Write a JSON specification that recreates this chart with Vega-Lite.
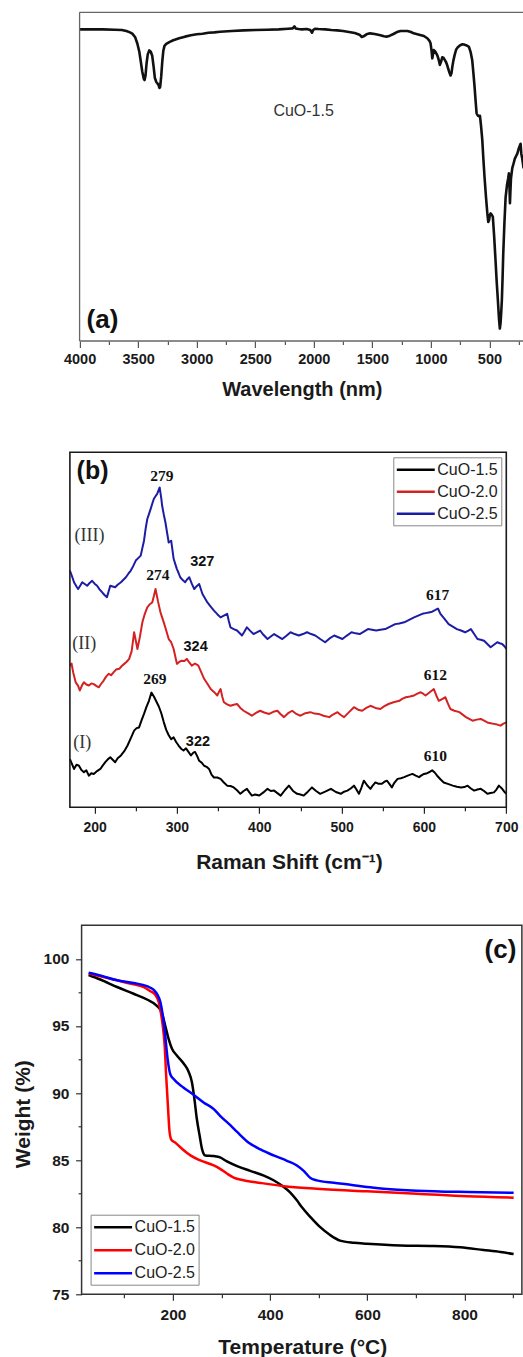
{
  "$schema": "https://vega.github.io/schema/vega-lite/v6.json",
  "padding": {"left": 11.9, "top": 11.3, "right": 0, "bottom": 0},
  "autosize": {"type": "pad"},
  "spacing": 52,
  "resolve": {"scale": {"color": "independent"}, "legend": {"color": "independent"}},
  "config": {
    "view": {"stroke": null},
    "font": "Liberation Sans",
    "axis": {
      "grid": false,
      "domain": false,
      "labelFont": "Liberation Sans",
      "labelFontWeight": "bold",
      "labelColor": "#1a1a1a",
      "labelFlush": false,
      "labelOverlap": false,
      "titleFont": "Liberation Sans",
      "titleFontWeight": "bold",
      "titleColor": "#1a1a1a",
      "titleBaseline": "alphabetic",
      "titleAlign": "center",
      "ticks": true,
      "tickColor": "#444444",
      "tickWidth": 1.2,
      "tickOpacity": 1
    }
  },
  "vconcat": [
    {
      "width": 453.7,
      "height": 328.7,
      "resolve": {"axis": {"x": "independent"}},
      "data": {"values": [
        {"wn": 4000, "t": 94.8}, {"wn": 3900, "t": 94.8}, {"wn": 3800, "t": 94.8}, {"wn": 3700, "t": 94.7},
        {"wn": 3640, "t": 94.6}, {"wn": 3600, "t": 94.3}, {"wn": 3570, "t": 93.9}, {"wn": 3550, "t": 93.5},
        {"wn": 3525, "t": 92.4}, {"wn": 3507, "t": 90.5}, {"wn": 3490, "t": 88.0}, {"wn": 3479, "t": 85.4},
        {"wn": 3465, "t": 82.0}, {"wn": 3452, "t": 79.8}, {"wn": 3445, "t": 79.4}, {"wn": 3437, "t": 80.8},
        {"wn": 3428, "t": 84.5}, {"wn": 3418, "t": 87.2}, {"wn": 3405, "t": 88.4}, {"wn": 3392, "t": 88.0},
        {"wn": 3380, "t": 86.8}, {"wn": 3368, "t": 83.5}, {"wn": 3357, "t": 80.0}, {"wn": 3345, "t": 78.8},
        {"wn": 3336, "t": 78.4}, {"wn": 3325, "t": 77.8}, {"wn": 3318, "t": 77.0}, {"wn": 3312, "t": 77.3},
        {"wn": 3303, "t": 80.5}, {"wn": 3294, "t": 85.0}, {"wn": 3285, "t": 88.3}, {"wn": 3275, "t": 89.8},
        {"wn": 3260, "t": 90.4}, {"wn": 3230, "t": 91.0}, {"wn": 3200, "t": 91.5}, {"wn": 3150, "t": 92.1},
        {"wn": 3100, "t": 92.6}, {"wn": 3050, "t": 93.0}, {"wn": 3000, "t": 93.3}, {"wn": 2950, "t": 93.5},
        {"wn": 2900, "t": 93.8}, {"wn": 2850, "t": 93.9}, {"wn": 2800, "t": 94.1}, {"wn": 2700, "t": 94.3},
        {"wn": 2600, "t": 94.5}, {"wn": 2500, "t": 94.6}, {"wn": 2400, "t": 94.7}, {"wn": 2300, "t": 94.8},
        {"wn": 2220, "t": 95.0}, {"wn": 2180, "t": 95.1}, {"wn": 2165, "t": 95.7}, {"wn": 2155, "t": 95.1},
        {"wn": 2130, "t": 94.9}, {"wn": 2100, "t": 94.8}, {"wn": 2060, "t": 94.9}, {"wn": 2030, "t": 94.6},
        {"wn": 2015, "t": 93.8}, {"wn": 2005, "t": 94.6}, {"wn": 1990, "t": 95.0}, {"wn": 1960, "t": 94.9},
        {"wn": 1900, "t": 94.8}, {"wn": 1850, "t": 94.6}, {"wn": 1800, "t": 94.5}, {"wn": 1750, "t": 94.3},
        {"wn": 1700, "t": 94.0}, {"wn": 1650, "t": 93.7}, {"wn": 1610, "t": 93.2}, {"wn": 1590, "t": 92.5},
        {"wn": 1575, "t": 92.7}, {"wn": 1550, "t": 93.3}, {"wn": 1520, "t": 93.6}, {"wn": 1480, "t": 93.4},
        {"wn": 1440, "t": 93.1}, {"wn": 1400, "t": 92.7}, {"wn": 1380, "t": 92.6}, {"wn": 1350, "t": 92.9},
        {"wn": 1320, "t": 93.4}, {"wn": 1290, "t": 94.0}, {"wn": 1260, "t": 94.3}, {"wn": 1220, "t": 94.3},
        {"wn": 1200, "t": 94.3}, {"wn": 1170, "t": 94.0}, {"wn": 1147, "t": 93.6}, {"wn": 1100, "t": 93.2},
        {"wn": 1060, "t": 92.8}, {"wn": 1031, "t": 92.1}, {"wn": 1012, "t": 91.3}, {"wn": 1003, "t": 90.6},
        {"wn": 995, "t": 88.5}, {"wn": 988, "t": 86.0}, {"wn": 982, "t": 87.2}, {"wn": 975, "t": 88.5},
        {"wn": 962, "t": 88.0}, {"wn": 946, "t": 87.0}, {"wn": 935, "t": 85.8}, {"wn": 923, "t": 84.0},
        {"wn": 913, "t": 85.0}, {"wn": 903, "t": 86.3}, {"wn": 893, "t": 86.2}, {"wn": 883, "t": 85.6},
        {"wn": 870, "t": 84.8}, {"wn": 860, "t": 83.8}, {"wn": 845, "t": 82.0}, {"wn": 832, "t": 80.8},
        {"wn": 824, "t": 81.5}, {"wn": 817, "t": 83.4}, {"wn": 808, "t": 85.3}, {"wn": 798, "t": 86.9},
        {"wn": 785, "t": 88.6}, {"wn": 770, "t": 89.4}, {"wn": 750, "t": 90.0}, {"wn": 730, "t": 90.3},
        {"wn": 718, "t": 90.2}, {"wn": 700, "t": 90.0}, {"wn": 685, "t": 89.7}, {"wn": 675, "t": 89.5},
        {"wn": 660, "t": 87.8}, {"wn": 647, "t": 85.4}, {"wn": 637, "t": 81.5}, {"wn": 627, "t": 77.3},
        {"wn": 618, "t": 73.0}, {"wn": 610, "t": 69.3}, {"wn": 600, "t": 68.6}, {"wn": 590, "t": 68.4},
        {"wn": 581, "t": 68.5}, {"wn": 572, "t": 65.5}, {"wn": 561, "t": 61.1}, {"wn": 552, "t": 55.5},
        {"wn": 542, "t": 49.9}, {"wn": 530, "t": 44.0}, {"wn": 518, "t": 38.8}, {"wn": 510, "t": 36.2},
        {"wn": 503, "t": 36.8}, {"wn": 496, "t": 38.5}, {"wn": 490, "t": 38.8}, {"wn": 480, "t": 38.4},
        {"wn": 471, "t": 37.8}, {"wn": 460, "t": 32.0}, {"wn": 448, "t": 24.5}, {"wn": 438, "t": 18.0},
        {"wn": 428, "t": 12.4}, {"wn": 418, "t": 6.5}, {"wn": 411, "t": 3.8}, {"wn": 405, "t": 5.5},
        {"wn": 399, "t": 9.0}, {"wn": 394, "t": 12.4}, {"wn": 388, "t": 19.0}, {"wn": 382, "t": 26.7},
        {"wn": 372, "t": 36.0}, {"wn": 362, "t": 43.7}, {"wn": 350, "t": 47.5}, {"wn": 340, "t": 49.5},
        {"wn": 334, "t": 51.0}, {"wn": 329, "t": 47.0}, {"wn": 325, "t": 41.9}, {"wn": 321, "t": 45.5},
        {"wn": 316, "t": 49.5}, {"wn": 305, "t": 52.6}, {"wn": 294, "t": 54.0}, {"wn": 283, "t": 55.5},
        {"wn": 272, "t": 56.3}, {"wn": 262, "t": 57.0}, {"wn": 250, "t": 58.5}, {"wn": 240, "t": 59.5},
        {"wn": 234, "t": 60.0}, {"wn": 228, "t": 57.0}, {"wn": 220, "t": 55.5}, {"wn": 214, "t": 54.0},
        {"wn": 208.5, "t": 52.5}
      ]},
      "layer": [
        {
          "mark": {"type": "line", "color": "#111111", "strokeWidth": 2.6, "strokeJoin": "round"},
          "encoding": {
            "x": {
              "field": "wn", "type": "quantitative",
              "scale": {"domain": [4082.8, 208.4], "nice": false, "zero": false},
              "axis": {
                "orient": "bottom",
                "title": "Wavelength (nm)",
                "values": [4000, 3500, 3000, 2500, 2000, 1500, 1000, 500],
                "format": "d",
                "tickSize": 6.5,
                "tickColor": "#555555",
                "labelFontSize": 14.5,
                "labelPadding": 4.6,
                "titleFontSize": 20,
                "titleX": 231.9,
                "titleY": 54.3
              }
            },
            "y": {
              "field": "t", "type": "quantitative",
              "scale": {"domain": [0, 100], "nice": false, "zero": false},
              "axis": {
                "title": "Transmittance (a.u)",
                "labels": false,
                "ticks": false,
                "titleFontSize": 20,
                "titleX": -21.7,
                "titleY": 168
              }
            }
          }
        },
        {
          "data": {"values": [{}]},
          "mark": {"type": "rule", "color": "#666666", "strokeWidth": 1.3},
          "encoding": {
            "x": {"datum": 4000, "type": "quantitative", "axis": {"orient": "bottom", "values": [3750, 3250, 2750, 2250, 1750, 1250, 750, 250], "labels": false, "title": null, "tickSize": 3.5, "tickColor": "#555555"}},
            "x2": {"datum": 208.4},
            "y": {"datum": 100, "type": "quantitative", "axis": null}
          }
        },
        {
          "data": {"values": [{}]},
          "mark": {"type": "rule", "color": "#666666", "strokeWidth": 1.3},
          "encoding": {
            "x": {"datum": 4000, "type": "quantitative", "axis": null},
            "x2": {"datum": 208.4},
            "y": {"datum": 0, "type": "quantitative", "axis": null}
          }
        },
        {
          "data": {"values": [{}]},
          "mark": {"type": "rule", "color": "#666666", "strokeWidth": 1.3},
          "encoding": {
            "x": {"datum": 4000, "type": "quantitative", "axis": null},
            "y": {"datum": 0, "type": "quantitative", "axis": null},
            "y2": {"datum": 100}
          }
        },
        {
          "data": {"values": [{"wn": 2087, "t": 68.4, "label": "CuO-1.5"}]},
          "mark": {"type": "text", "font": "Liberation Sans", "fontSize": 16, "color": "#333333", "align": "center", "baseline": "alphabetic"},
          "encoding": {
            "x": {"field": "wn", "type": "quantitative", "axis": null},
            "y": {"field": "t", "type": "quantitative", "axis": null},
            "text": {"field": "label"}
          }
        },
        {
          "data": {"values": [{"wn": 3940, "t": 3.9, "label": "(a)"}]},
          "mark": {"type": "text", "font": "Liberation Sans", "fontSize": 26, "fontWeight": "bold", "color": "#111111", "align": "left", "baseline": "alphabetic"},
          "encoding": {
            "x": {"field": "wn", "type": "quantitative", "axis": null},
            "y": {"field": "t", "type": "quantitative", "axis": null},
            "text": {"field": "label"}
          }
        }
      ]
    },
    {
      "width": 436.4,
      "height": 355,
      "resolve": {"axis": {"x": "independent"}},
      "data": {"values": [
        {"s": "CuO-1.5", "shift": 170, "i": 13.6}, {"s": "CuO-1.5", "shift": 175, "i": 10.8}, {"s": "CuO-1.5", "shift": 178, "i": 12.0},
        {"s": "CuO-1.5", "shift": 181, "i": 11.7}, {"s": "CuO-1.5", "shift": 184, "i": 10.5}, {"s": "CuO-1.5", "shift": 187, "i": 9.9},
        {"s": "CuO-1.5", "shift": 190, "i": 10.4}, {"s": "CuO-1.5", "shift": 193, "i": 8.9}, {"s": "CuO-1.5", "shift": 196, "i": 9.6},
        {"s": "CuO-1.5", "shift": 199, "i": 9.4}, {"s": "CuO-1.5", "shift": 203, "i": 10.2}, {"s": "CuO-1.5", "shift": 207, "i": 10.8},
        {"s": "CuO-1.5", "shift": 210, "i": 11.8}, {"s": "CuO-1.5", "shift": 213, "i": 12.7}, {"s": "CuO-1.5", "shift": 216, "i": 13.5},
        {"s": "CuO-1.5", "shift": 219, "i": 14.1}, {"s": "CuO-1.5", "shift": 222, "i": 13.4}, {"s": "CuO-1.5", "shift": 225, "i": 12.7},
        {"s": "CuO-1.5", "shift": 228, "i": 13.8}, {"s": "CuO-1.5", "shift": 232, "i": 14.6}, {"s": "CuO-1.5", "shift": 236, "i": 15.8},
        {"s": "CuO-1.5", "shift": 240, "i": 17.4}, {"s": "CuO-1.5", "shift": 244, "i": 19.5}, {"s": "CuO-1.5", "shift": 248, "i": 21.6},
        {"s": "CuO-1.5", "shift": 251, "i": 22.3}, {"s": "CuO-1.5", "shift": 254, "i": 22.5}, {"s": "CuO-1.5", "shift": 257, "i": 24.5},
        {"s": "CuO-1.5", "shift": 260, "i": 26.3}, {"s": "CuO-1.5", "shift": 263, "i": 28.3}, {"s": "CuO-1.5", "shift": 266, "i": 30.0},
        {"s": "CuO-1.5", "shift": 269, "i": 32.3}, {"s": "CuO-1.5", "shift": 272, "i": 31.2}, {"s": "CuO-1.5", "shift": 275, "i": 29.8},
        {"s": "CuO-1.5", "shift": 278, "i": 28.4}, {"s": "CuO-1.5", "shift": 281, "i": 26.5}, {"s": "CuO-1.5", "shift": 284, "i": 24.0},
        {"s": "CuO-1.5", "shift": 287, "i": 21.8}, {"s": "CuO-1.5", "shift": 290, "i": 20.3}, {"s": "CuO-1.5", "shift": 293, "i": 19.2},
        {"s": "CuO-1.5", "shift": 296, "i": 19.7}, {"s": "CuO-1.5", "shift": 299, "i": 18.4}, {"s": "CuO-1.5", "shift": 302, "i": 17.4},
        {"s": "CuO-1.5", "shift": 305, "i": 16.5}, {"s": "CuO-1.5", "shift": 308, "i": 16.0}, {"s": "CuO-1.5", "shift": 311, "i": 16.6},
        {"s": "CuO-1.5", "shift": 314, "i": 15.6}, {"s": "CuO-1.5", "shift": 317, "i": 14.6}, {"s": "CuO-1.5", "shift": 320, "i": 15.4},
        {"s": "CuO-1.5", "shift": 322, "i": 15.6}, {"s": "CuO-1.5", "shift": 325, "i": 14.2}, {"s": "CuO-1.5", "shift": 327, "i": 13.1},
        {"s": "CuO-1.5", "shift": 330, "i": 12.6}, {"s": "CuO-1.5", "shift": 333, "i": 11.7}, {"s": "CuO-1.5", "shift": 336, "i": 11.4},
        {"s": "CuO-1.5", "shift": 339, "i": 10.8}, {"s": "CuO-1.5", "shift": 342, "i": 9.2}, {"s": "CuO-1.5", "shift": 345, "i": 8.4},
        {"s": "CuO-1.5", "shift": 349, "i": 8.4}, {"s": "CuO-1.5", "shift": 353, "i": 8.0}, {"s": "CuO-1.5", "shift": 357, "i": 7.0},
        {"s": "CuO-1.5", "shift": 361, "i": 6.1}, {"s": "CuO-1.5", "shift": 365, "i": 6.0}, {"s": "CuO-1.5", "shift": 369, "i": 5.6},
        {"s": "CuO-1.5", "shift": 373, "i": 4.8}, {"s": "CuO-1.5", "shift": 377, "i": 3.8}, {"s": "CuO-1.5", "shift": 381, "i": 4.6},
        {"s": "CuO-1.5", "shift": 385, "i": 5.2}, {"s": "CuO-1.5", "shift": 388, "i": 4.2}, {"s": "CuO-1.5", "shift": 391, "i": 3.3},
        {"s": "CuO-1.5", "shift": 395, "i": 3.6}, {"s": "CuO-1.5", "shift": 400, "i": 3.3}, {"s": "CuO-1.5", "shift": 405, "i": 4.2},
        {"s": "CuO-1.5", "shift": 410, "i": 5.2}, {"s": "CuO-1.5", "shift": 414, "i": 4.6}, {"s": "CuO-1.5", "shift": 418, "i": 4.7},
        {"s": "CuO-1.5", "shift": 422, "i": 4.0}, {"s": "CuO-1.5", "shift": 426, "i": 3.3}, {"s": "CuO-1.5", "shift": 431, "i": 4.8},
        {"s": "CuO-1.5", "shift": 436, "i": 6.1}, {"s": "CuO-1.5", "shift": 441, "i": 4.6}, {"s": "CuO-1.5", "shift": 446, "i": 3.8},
        {"s": "CuO-1.5", "shift": 450, "i": 3.6}, {"s": "CuO-1.5", "shift": 454, "i": 3.3}, {"s": "CuO-1.5", "shift": 459, "i": 4.4},
        {"s": "CuO-1.5", "shift": 464, "i": 5.6}, {"s": "CuO-1.5", "shift": 469, "i": 4.6}, {"s": "CuO-1.5", "shift": 474, "i": 3.8},
        {"s": "CuO-1.5", "shift": 480, "i": 4.4}, {"s": "CuO-1.5", "shift": 487, "i": 5.2}, {"s": "CuO-1.5", "shift": 493, "i": 4.3},
        {"s": "CuO-1.5", "shift": 499, "i": 3.8}, {"s": "CuO-1.5", "shift": 503, "i": 4.4}, {"s": "CuO-1.5", "shift": 507, "i": 4.7},
        {"s": "CuO-1.5", "shift": 511, "i": 5.3}, {"s": "CuO-1.5", "shift": 515, "i": 6.1}, {"s": "CuO-1.5", "shift": 518, "i": 5.0},
        {"s": "CuO-1.5", "shift": 521, "i": 3.8}, {"s": "CuO-1.5", "shift": 524, "i": 5.5}, {"s": "CuO-1.5", "shift": 527, "i": 7.5},
        {"s": "CuO-1.5", "shift": 531, "i": 6.2}, {"s": "CuO-1.5", "shift": 535, "i": 5.2}, {"s": "CuO-1.5", "shift": 538, "i": 6.2},
        {"s": "CuO-1.5", "shift": 541, "i": 7.0}, {"s": "CuO-1.5", "shift": 545, "i": 6.6}, {"s": "CuO-1.5", "shift": 549, "i": 6.6},
        {"s": "CuO-1.5", "shift": 552, "i": 7.2}, {"s": "CuO-1.5", "shift": 555, "i": 7.5}, {"s": "CuO-1.5", "shift": 558, "i": 6.6},
        {"s": "CuO-1.5", "shift": 561, "i": 5.6}, {"s": "CuO-1.5", "shift": 564, "i": 6.9}, {"s": "CuO-1.5", "shift": 568, "i": 8.0},
        {"s": "CuO-1.5", "shift": 572, "i": 8.2}, {"s": "CuO-1.5", "shift": 576, "i": 8.5}, {"s": "CuO-1.5", "shift": 581, "i": 9.0},
        {"s": "CuO-1.5", "shift": 586, "i": 9.4}, {"s": "CuO-1.5", "shift": 590, "i": 8.9}, {"s": "CuO-1.5", "shift": 594, "i": 8.5},
        {"s": "CuO-1.5", "shift": 597, "i": 9.0}, {"s": "CuO-1.5", "shift": 600, "i": 9.4}, {"s": "CuO-1.5", "shift": 604, "i": 9.6},
        {"s": "CuO-1.5", "shift": 607, "i": 10.0}, {"s": "CuO-1.5", "shift": 610, "i": 10.4}, {"s": "CuO-1.5", "shift": 613, "i": 9.8},
        {"s": "CuO-1.5", "shift": 616, "i": 8.9}, {"s": "CuO-1.5", "shift": 620, "i": 7.9}, {"s": "CuO-1.5", "shift": 624, "i": 7.0},
        {"s": "CuO-1.5", "shift": 629, "i": 6.6}, {"s": "CuO-1.5", "shift": 635, "i": 6.1}, {"s": "CuO-1.5", "shift": 640, "i": 5.8},
        {"s": "CuO-1.5", "shift": 645, "i": 5.6}, {"s": "CuO-1.5", "shift": 649, "i": 5.7}, {"s": "CuO-1.5", "shift": 653, "i": 6.1},
        {"s": "CuO-1.5", "shift": 657, "i": 5.3}, {"s": "CuO-1.5", "shift": 661, "i": 4.7}, {"s": "CuO-1.5", "shift": 665, "i": 5.0},
        {"s": "CuO-1.5", "shift": 669, "i": 5.2}, {"s": "CuO-1.5", "shift": 673, "i": 4.6}, {"s": "CuO-1.5", "shift": 677, "i": 3.8},
        {"s": "CuO-1.5", "shift": 681, "i": 4.0}, {"s": "CuO-1.5", "shift": 685, "i": 4.2}, {"s": "CuO-1.5", "shift": 688, "i": 5.0},
        {"s": "CuO-1.5", "shift": 691, "i": 6.1}, {"s": "CuO-1.5", "shift": 695, "i": 5.2}, {"s": "CuO-1.5", "shift": 698, "i": 4.3},
        {"s": "CuO-1.5", "shift": 700, "i": 3.8},

        {"s": "CuO-2.0", "shift": 170, "i": 39.9}, {"s": "CuO-2.0", "shift": 172, "i": 40.5}, {"s": "CuO-2.0", "shift": 174, "i": 38.0},
        {"s": "CuO-2.0", "shift": 177, "i": 35.2}, {"s": "CuO-2.0", "shift": 180, "i": 34.2}, {"s": "CuO-2.0", "shift": 182, "i": 32.9},
        {"s": "CuO-2.0", "shift": 185, "i": 34.5}, {"s": "CuO-2.0", "shift": 187, "i": 35.2}, {"s": "CuO-2.0", "shift": 190, "i": 34.6},
        {"s": "CuO-2.0", "shift": 193, "i": 34.3}, {"s": "CuO-2.0", "shift": 196, "i": 34.9}, {"s": "CuO-2.0", "shift": 199, "i": 34.7},
        {"s": "CuO-2.0", "shift": 202, "i": 34.2}, {"s": "CuO-2.0", "shift": 205, "i": 33.8}, {"s": "CuO-2.0", "shift": 208, "i": 34.8},
        {"s": "CuO-2.0", "shift": 211, "i": 35.7}, {"s": "CuO-2.0", "shift": 214, "i": 36.8}, {"s": "CuO-2.0", "shift": 217, "i": 37.6},
        {"s": "CuO-2.0", "shift": 220, "i": 37.2}, {"s": "CuO-2.0", "shift": 223, "i": 38.0}, {"s": "CuO-2.0", "shift": 226, "i": 38.8},
        {"s": "CuO-2.0", "shift": 230, "i": 39.0}, {"s": "CuO-2.0", "shift": 233, "i": 39.8}, {"s": "CuO-2.0", "shift": 236, "i": 40.4},
        {"s": "CuO-2.0", "shift": 239, "i": 41.0}, {"s": "CuO-2.0", "shift": 242, "i": 41.8}, {"s": "CuO-2.0", "shift": 245, "i": 44.0},
        {"s": "CuO-2.0", "shift": 248, "i": 49.3}, {"s": "CuO-2.0", "shift": 250, "i": 47.0}, {"s": "CuO-2.0", "shift": 252, "i": 44.6},
        {"s": "CuO-2.0", "shift": 255, "i": 48.0}, {"s": "CuO-2.0", "shift": 258, "i": 52.1}, {"s": "CuO-2.0", "shift": 261, "i": 54.5},
        {"s": "CuO-2.0", "shift": 264, "i": 56.3}, {"s": "CuO-2.0", "shift": 267, "i": 57.2}, {"s": "CuO-2.0", "shift": 270, "i": 57.7},
        {"s": "CuO-2.0", "shift": 272, "i": 59.5}, {"s": "CuO-2.0", "shift": 274, "i": 61.5}, {"s": "CuO-2.0", "shift": 277, "i": 58.0},
        {"s": "CuO-2.0", "shift": 280, "i": 54.9}, {"s": "CuO-2.0", "shift": 282, "i": 53.5}, {"s": "CuO-2.0", "shift": 284, "i": 52.1},
        {"s": "CuO-2.0", "shift": 287, "i": 49.8}, {"s": "CuO-2.0", "shift": 290, "i": 47.4}, {"s": "CuO-2.0", "shift": 293, "i": 46.5},
        {"s": "CuO-2.0", "shift": 296, "i": 44.6}, {"s": "CuO-2.0", "shift": 298, "i": 42.5}, {"s": "CuO-2.0", "shift": 300, "i": 40.4},
        {"s": "CuO-2.0", "shift": 303, "i": 41.0}, {"s": "CuO-2.0", "shift": 306, "i": 41.3}, {"s": "CuO-2.0", "shift": 309, "i": 41.2},
        {"s": "CuO-2.0", "shift": 312, "i": 41.8}, {"s": "CuO-2.0", "shift": 315, "i": 40.8}, {"s": "CuO-2.0", "shift": 318, "i": 39.9},
        {"s": "CuO-2.0", "shift": 322, "i": 40.5}, {"s": "CuO-2.0", "shift": 326, "i": 39.9}, {"s": "CuO-2.0", "shift": 330, "i": 37.8},
        {"s": "CuO-2.0", "shift": 333, "i": 36.2}, {"s": "CuO-2.0", "shift": 337, "i": 34.8}, {"s": "CuO-2.0", "shift": 341, "i": 33.3},
        {"s": "CuO-2.0", "shift": 345, "i": 32.5}, {"s": "CuO-2.0", "shift": 349, "i": 31.5}, {"s": "CuO-2.0", "shift": 351, "i": 32.5},
        {"s": "CuO-2.0", "shift": 353, "i": 33.3}, {"s": "CuO-2.0", "shift": 355, "i": 31.2}, {"s": "CuO-2.0", "shift": 357, "i": 29.6},
        {"s": "CuO-2.0", "shift": 361, "i": 29.0}, {"s": "CuO-2.0", "shift": 365, "i": 28.6}, {"s": "CuO-2.0", "shift": 369, "i": 28.9},
        {"s": "CuO-2.0", "shift": 373, "i": 29.1}, {"s": "CuO-2.0", "shift": 377, "i": 28.0}, {"s": "CuO-2.0", "shift": 381, "i": 27.2},
        {"s": "CuO-2.0", "shift": 386, "i": 26.5}, {"s": "CuO-2.0", "shift": 391, "i": 25.8}, {"s": "CuO-2.0", "shift": 396, "i": 26.6},
        {"s": "CuO-2.0", "shift": 401, "i": 27.2}, {"s": "CuO-2.0", "shift": 406, "i": 26.7}, {"s": "CuO-2.0", "shift": 412, "i": 26.3},
        {"s": "CuO-2.0", "shift": 417, "i": 26.9}, {"s": "CuO-2.0", "shift": 422, "i": 27.2}, {"s": "CuO-2.0", "shift": 426, "i": 26.2},
        {"s": "CuO-2.0", "shift": 430, "i": 25.4}, {"s": "CuO-2.0", "shift": 435, "i": 26.5}, {"s": "CuO-2.0", "shift": 440, "i": 27.2},
        {"s": "CuO-2.0", "shift": 445, "i": 26.3}, {"s": "CuO-2.0", "shift": 450, "i": 25.8}, {"s": "CuO-2.0", "shift": 456, "i": 26.5},
        {"s": "CuO-2.0", "shift": 462, "i": 26.8}, {"s": "CuO-2.0", "shift": 467, "i": 26.4}, {"s": "CuO-2.0", "shift": 472, "i": 26.3},
        {"s": "CuO-2.0", "shift": 478, "i": 25.8}, {"s": "CuO-2.0", "shift": 485, "i": 25.4}, {"s": "CuO-2.0", "shift": 490, "i": 26.2},
        {"s": "CuO-2.0", "shift": 495, "i": 26.8}, {"s": "CuO-2.0", "shift": 499, "i": 26.0}, {"s": "CuO-2.0", "shift": 503, "i": 25.4},
        {"s": "CuO-2.0", "shift": 509, "i": 26.8}, {"s": "CuO-2.0", "shift": 515, "i": 28.2}, {"s": "CuO-2.0", "shift": 520, "i": 27.5},
        {"s": "CuO-2.0", "shift": 525, "i": 27.2}, {"s": "CuO-2.0", "shift": 530, "i": 28.0}, {"s": "CuO-2.0", "shift": 535, "i": 28.6},
        {"s": "CuO-2.0", "shift": 541, "i": 28.0}, {"s": "CuO-2.0", "shift": 547, "i": 27.7}, {"s": "CuO-2.0", "shift": 552, "i": 28.5},
        {"s": "CuO-2.0", "shift": 557, "i": 29.1}, {"s": "CuO-2.0", "shift": 563, "i": 29.6}, {"s": "CuO-2.0", "shift": 570, "i": 30.0},
        {"s": "CuO-2.0", "shift": 574, "i": 30.6}, {"s": "CuO-2.0", "shift": 578, "i": 31.0}, {"s": "CuO-2.0", "shift": 583, "i": 31.2},
        {"s": "CuO-2.0", "shift": 588, "i": 31.5}, {"s": "CuO-2.0", "shift": 592, "i": 32.0}, {"s": "CuO-2.0", "shift": 596, "i": 32.4},
        {"s": "CuO-2.0", "shift": 599, "i": 32.0}, {"s": "CuO-2.0", "shift": 602, "i": 31.5}, {"s": "CuO-2.0", "shift": 607, "i": 32.4},
        {"s": "CuO-2.0", "shift": 612, "i": 33.3}, {"s": "CuO-2.0", "shift": 615, "i": 31.5}, {"s": "CuO-2.0", "shift": 618, "i": 30.0},
        {"s": "CuO-2.0", "shift": 622, "i": 30.5}, {"s": "CuO-2.0", "shift": 626, "i": 31.0}, {"s": "CuO-2.0", "shift": 629, "i": 29.3},
        {"s": "CuO-2.0", "shift": 632, "i": 27.7}, {"s": "CuO-2.0", "shift": 637, "i": 27.2}, {"s": "CuO-2.0", "shift": 643, "i": 26.8},
        {"s": "CuO-2.0", "shift": 647, "i": 26.1}, {"s": "CuO-2.0", "shift": 651, "i": 25.4}, {"s": "CuO-2.0", "shift": 655, "i": 24.9},
        {"s": "CuO-2.0", "shift": 659, "i": 24.4}, {"s": "CuO-2.0", "shift": 664, "i": 24.7}, {"s": "CuO-2.0", "shift": 669, "i": 24.9},
        {"s": "CuO-2.0", "shift": 673, "i": 24.4}, {"s": "CuO-2.0", "shift": 677, "i": 23.9}, {"s": "CuO-2.0", "shift": 681, "i": 23.7},
        {"s": "CuO-2.0", "shift": 685, "i": 23.5}, {"s": "CuO-2.0", "shift": 689, "i": 23.3}, {"s": "CuO-2.0", "shift": 693, "i": 23.0},
        {"s": "CuO-2.0", "shift": 696, "i": 23.5}, {"s": "CuO-2.0", "shift": 700, "i": 23.9},

        {"s": "CuO-2.5", "shift": 170, "i": 66.7}, {"s": "CuO-2.5", "shift": 173, "i": 64.8}, {"s": "CuO-2.5", "shift": 175, "i": 63.4},
        {"s": "CuO-2.5", "shift": 178, "i": 62.2}, {"s": "CuO-2.5", "shift": 180, "i": 61.5}, {"s": "CuO-2.5", "shift": 183, "i": 62.6},
        {"s": "CuO-2.5", "shift": 185, "i": 63.4}, {"s": "CuO-2.5", "shift": 188, "i": 62.9}, {"s": "CuO-2.5", "shift": 191, "i": 62.4},
        {"s": "CuO-2.5", "shift": 194, "i": 63.2}, {"s": "CuO-2.5", "shift": 197, "i": 63.8}, {"s": "CuO-2.5", "shift": 200, "i": 63.0},
        {"s": "CuO-2.5", "shift": 203, "i": 62.4}, {"s": "CuO-2.5", "shift": 206, "i": 61.4}, {"s": "CuO-2.5", "shift": 209, "i": 60.6},
        {"s": "CuO-2.5", "shift": 212, "i": 59.8}, {"s": "CuO-2.5", "shift": 215, "i": 59.2}, {"s": "CuO-2.5", "shift": 217, "i": 60.8},
        {"s": "CuO-2.5", "shift": 219, "i": 62.4}, {"s": "CuO-2.5", "shift": 222, "i": 62.2}, {"s": "CuO-2.5", "shift": 225, "i": 62.0},
        {"s": "CuO-2.5", "shift": 228, "i": 62.7}, {"s": "CuO-2.5", "shift": 232, "i": 63.4}, {"s": "CuO-2.5", "shift": 235, "i": 64.1},
        {"s": "CuO-2.5", "shift": 238, "i": 64.8}, {"s": "CuO-2.5", "shift": 241, "i": 65.8}, {"s": "CuO-2.5", "shift": 244, "i": 66.7},
        {"s": "CuO-2.5", "shift": 247, "i": 68.0}, {"s": "CuO-2.5", "shift": 250, "i": 69.5}, {"s": "CuO-2.5", "shift": 253, "i": 70.2},
        {"s": "CuO-2.5", "shift": 256, "i": 70.9}, {"s": "CuO-2.5", "shift": 258, "i": 73.0}, {"s": "CuO-2.5", "shift": 260, "i": 75.1},
        {"s": "CuO-2.5", "shift": 262, "i": 78.5}, {"s": "CuO-2.5", "shift": 264, "i": 81.2}, {"s": "CuO-2.5", "shift": 266, "i": 82.6},
        {"s": "CuO-2.5", "shift": 268, "i": 84.0}, {"s": "CuO-2.5", "shift": 270, "i": 85.5}, {"s": "CuO-2.5", "shift": 272, "i": 86.9},
        {"s": "CuO-2.5", "shift": 274, "i": 87.6}, {"s": "CuO-2.5", "shift": 276, "i": 88.3}, {"s": "CuO-2.5", "shift": 279, "i": 90.1},
        {"s": "CuO-2.5", "shift": 281, "i": 87.0}, {"s": "CuO-2.5", "shift": 282, "i": 85.0}, {"s": "CuO-2.5", "shift": 284, "i": 82.5},
        {"s": "CuO-2.5", "shift": 286, "i": 80.3}, {"s": "CuO-2.5", "shift": 288, "i": 77.4}, {"s": "CuO-2.5", "shift": 290, "i": 74.6},
        {"s": "CuO-2.5", "shift": 293, "i": 75.1}, {"s": "CuO-2.5", "shift": 296, "i": 70.0}, {"s": "CuO-2.5", "shift": 298, "i": 68.5},
        {"s": "CuO-2.5", "shift": 300, "i": 67.1}, {"s": "CuO-2.5", "shift": 302, "i": 66.0}, {"s": "CuO-2.5", "shift": 304, "i": 64.8},
        {"s": "CuO-2.5", "shift": 307, "i": 64.0}, {"s": "CuO-2.5", "shift": 310, "i": 63.4}, {"s": "CuO-2.5", "shift": 312, "i": 64.1},
        {"s": "CuO-2.5", "shift": 315, "i": 64.8}, {"s": "CuO-2.5", "shift": 318, "i": 63.0}, {"s": "CuO-2.5", "shift": 321, "i": 61.5},
        {"s": "CuO-2.5", "shift": 324, "i": 62.3}, {"s": "CuO-2.5", "shift": 327, "i": 62.9}, {"s": "CuO-2.5", "shift": 329, "i": 61.5},
        {"s": "CuO-2.5", "shift": 331, "i": 60.1}, {"s": "CuO-2.5", "shift": 334, "i": 58.9}, {"s": "CuO-2.5", "shift": 337, "i": 57.7},
        {"s": "CuO-2.5", "shift": 341, "i": 56.5}, {"s": "CuO-2.5", "shift": 345, "i": 55.4}, {"s": "CuO-2.5", "shift": 349, "i": 54.4},
        {"s": "CuO-2.5", "shift": 353, "i": 53.5}, {"s": "CuO-2.5", "shift": 357, "i": 54.0}, {"s": "CuO-2.5", "shift": 361, "i": 54.5},
        {"s": "CuO-2.5", "shift": 363, "i": 52.5}, {"s": "CuO-2.5", "shift": 365, "i": 50.7}, {"s": "CuO-2.5", "shift": 369, "i": 50.2},
        {"s": "CuO-2.5", "shift": 373, "i": 49.8}, {"s": "CuO-2.5", "shift": 376, "i": 49.1}, {"s": "CuO-2.5", "shift": 379, "i": 48.4},
        {"s": "CuO-2.5", "shift": 382, "i": 49.5}, {"s": "CuO-2.5", "shift": 385, "i": 50.7}, {"s": "CuO-2.5", "shift": 389, "i": 49.7},
        {"s": "CuO-2.5", "shift": 393, "i": 48.8}, {"s": "CuO-2.5", "shift": 397, "i": 49.3}, {"s": "CuO-2.5", "shift": 401, "i": 49.8},
        {"s": "CuO-2.5", "shift": 405, "i": 48.6}, {"s": "CuO-2.5", "shift": 410, "i": 47.4}, {"s": "CuO-2.5", "shift": 414, "i": 48.1},
        {"s": "CuO-2.5", "shift": 418, "i": 48.8}, {"s": "CuO-2.5", "shift": 423, "i": 48.1}, {"s": "CuO-2.5", "shift": 428, "i": 47.4},
        {"s": "CuO-2.5", "shift": 433, "i": 48.3}, {"s": "CuO-2.5", "shift": 438, "i": 49.3}, {"s": "CuO-2.5", "shift": 443, "i": 48.8},
        {"s": "CuO-2.5", "shift": 448, "i": 48.4}, {"s": "CuO-2.5", "shift": 453, "i": 48.8}, {"s": "CuO-2.5", "shift": 458, "i": 49.3},
        {"s": "CuO-2.5", "shift": 463, "i": 48.8}, {"s": "CuO-2.5", "shift": 468, "i": 48.4}, {"s": "CuO-2.5", "shift": 474, "i": 47.4},
        {"s": "CuO-2.5", "shift": 480, "i": 46.5}, {"s": "CuO-2.5", "shift": 485, "i": 47.5}, {"s": "CuO-2.5", "shift": 491, "i": 48.4},
        {"s": "CuO-2.5", "shift": 496, "i": 47.9}, {"s": "CuO-2.5", "shift": 501, "i": 47.4}, {"s": "CuO-2.5", "shift": 506, "i": 48.3},
        {"s": "CuO-2.5", "shift": 512, "i": 49.3}, {"s": "CuO-2.5", "shift": 517, "i": 49.0}, {"s": "CuO-2.5", "shift": 522, "i": 48.8},
        {"s": "CuO-2.5", "shift": 527, "i": 49.5}, {"s": "CuO-2.5", "shift": 532, "i": 50.2}, {"s": "CuO-2.5", "shift": 537, "i": 50.0},
        {"s": "CuO-2.5", "shift": 542, "i": 49.8}, {"s": "CuO-2.5", "shift": 547, "i": 50.0}, {"s": "CuO-2.5", "shift": 553, "i": 50.2},
        {"s": "CuO-2.5", "shift": 559, "i": 50.9}, {"s": "CuO-2.5", "shift": 565, "i": 51.6}, {"s": "CuO-2.5", "shift": 570, "i": 51.8},
        {"s": "CuO-2.5", "shift": 576, "i": 52.1}, {"s": "CuO-2.5", "shift": 582, "i": 52.8}, {"s": "CuO-2.5", "shift": 588, "i": 53.5},
        {"s": "CuO-2.5", "shift": 593, "i": 54.0}, {"s": "CuO-2.5", "shift": 598, "i": 54.5}, {"s": "CuO-2.5", "shift": 602, "i": 54.7},
        {"s": "CuO-2.5", "shift": 606, "i": 54.9}, {"s": "CuO-2.5", "shift": 610, "i": 55.1}, {"s": "CuO-2.5", "shift": 614, "i": 55.6},
        {"s": "CuO-2.5", "shift": 617, "i": 56.0}, {"s": "CuO-2.5", "shift": 620, "i": 54.5}, {"s": "CuO-2.5", "shift": 625, "i": 53.1},
        {"s": "CuO-2.5", "shift": 630, "i": 51.6}, {"s": "CuO-2.5", "shift": 635, "i": 50.9}, {"s": "CuO-2.5", "shift": 640, "i": 50.2},
        {"s": "CuO-2.5", "shift": 645, "i": 49.8}, {"s": "CuO-2.5", "shift": 650, "i": 49.3}, {"s": "CuO-2.5", "shift": 654, "i": 49.8},
        {"s": "CuO-2.5", "shift": 657, "i": 50.2}, {"s": "CuO-2.5", "shift": 661, "i": 48.8}, {"s": "CuO-2.5", "shift": 665, "i": 47.4},
        {"s": "CuO-2.5", "shift": 669, "i": 47.2}, {"s": "CuO-2.5", "shift": 673, "i": 46.9}, {"s": "CuO-2.5", "shift": 677, "i": 46.0},
        {"s": "CuO-2.5", "shift": 681, "i": 45.1}, {"s": "CuO-2.5", "shift": 685, "i": 45.8}, {"s": "CuO-2.5", "shift": 689, "i": 46.5},
        {"s": "CuO-2.5", "shift": 692, "i": 46.2}, {"s": "CuO-2.5", "shift": 695, "i": 46.0}, {"s": "CuO-2.5", "shift": 698, "i": 45.3},
        {"s": "CuO-2.5", "shift": 700, "i": 44.6}
      ]},
      "layer": [
        {
          "mark": {"type": "line", "strokeWidth": 2, "strokeJoin": "round"},
          "encoding": {
            "x": {
              "field": "shift", "type": "quantitative",
              "scale": {"domain": [170, 700], "nice": false, "zero": false},
              "axis": {
                "orient": "bottom",
                "title": "Raman Shift (cm⁻¹)",
                "values": [200, 300, 400, 500, 600, 700],
                "format": "d",
                "tickSize": 6,
                "tickColor": "#222222",
                "labelFontSize": 14,
                "labelPadding": 7.3,
                "titleFontSize": 21,
                "titleX": 219,
                "titleY": 61
              }
            },
            "y": {
              "field": "i", "type": "quantitative",
              "scale": {"domain": [0, 100], "nice": false, "zero": false},
              "axis": {
                "title": "Intensity (a.u)",
                "labels": false,
                "ticks": false,
                "titleFontSize": 21,
                "titleX": -29.3,
                "titleY": 184
              }
            },
            "color": {
              "field": "s", "type": "nominal",
              "scale": {"domain": ["CuO-1.5", "CuO-2.0", "CuO-2.5"], "range": ["#000000", "#d42222", "#1c1ca4"]},
              "legend": {
                "orient": "none", "legendX": 323.4, "legendY": 5, "title": null,
                "symbolType": "M-2.4,0H2.4", "symbolSize": 250, "symbolStrokeWidth": 2.5,
                "labelFont": "Liberation Sans", "labelFontSize": 16, "labelColor": "#222222",
                "strokeColor": "#888888", "fillColor": "white", "padding": 3, "rowPadding": 4,
                "symbolOffset": 10, "labelOffset": 12
              }
            }
          }
        },
        {
          "data": {"values": [{}]},
          "mark": {"type": "rect", "filled": false, "color": "#1a1a1a", "strokeWidth": 1.6},
          "encoding": {
            "x": {"datum": 170, "type": "quantitative", "axis": {"orient": "bottom", "values": [250, 350, 450, 550, 650], "labels": false, "title": null, "tickSize": 3.5, "tickColor": "#222222"}},
            "x2": {"datum": 700},
            "y": {"datum": 0, "type": "quantitative", "axis": null},
            "y2": {"datum": 100}
          }
        },
        {
          "data": {"values": [
            {"shift": 281.7, "i": 92.0, "label": "279"},
            {"shift": 276.9, "i": 64.1, "label": "274"},
            {"shift": 273.3, "i": 34.7, "label": "269"},
            {"shift": 616.6, "i": 58.5, "label": "617"},
            {"shift": 613.8, "i": 35.9, "label": "612"},
            {"shift": 613.8, "i": 13.1, "label": "610"}
          ]},
          "mark": {"type": "text", "font": "Liberation Serif", "fontSize": 15.5, "fontWeight": "bold", "color": "#111111", "align": "center", "baseline": "alphabetic"},
          "encoding": {
            "x": {"field": "shift", "type": "quantitative", "axis": null},
            "y": {"field": "i", "type": "quantitative", "axis": null},
            "text": {"field": "label"}
          }
        },
        {
          "data": {"values": [
            {"shift": 330.8, "i": 67.9, "label": "327"},
            {"shift": 322.7, "i": 43.9, "label": "324"},
            {"shift": 325.5, "i": 17.2, "label": "322"}
          ]},
          "mark": {"type": "text", "font": "Liberation Sans", "fontSize": 14.5, "fontWeight": "bold", "color": "#111111", "align": "center", "baseline": "alphabetic"},
          "encoding": {
            "x": {"field": "shift", "type": "quantitative", "axis": null},
            "y": {"field": "i", "type": "quantitative", "axis": null},
            "text": {"field": "label"}
          }
        },
        {
          "data": {"values": [
            {"shift": 175.7, "i": 75.1, "label": "(III)"},
            {"shift": 172.9, "i": 44.6, "label": "(II)"},
            {"shift": 174.1, "i": 16.6, "label": "(I)"}
          ]},
          "mark": {"type": "text", "font": "Liberation Serif", "fontSize": 18, "color": "#333333", "align": "left", "baseline": "alphabetic"},
          "encoding": {
            "x": {"field": "shift", "type": "quantitative", "axis": null},
            "y": {"field": "i", "type": "quantitative", "axis": null},
            "text": {"field": "label"}
          }
        },
        {
          "data": {"values": [{"shift": 178.1, "i": 92.5, "label": "(b)"}]},
          "mark": {"type": "text", "font": "Liberation Sans", "fontSize": 25, "fontWeight": "bold", "color": "#111111", "align": "left", "baseline": "alphabetic"},
          "encoding": {
            "x": {"field": "shift", "type": "quantitative", "axis": null},
            "y": {"field": "i", "type": "quantitative", "axis": null},
            "text": {"field": "label"}
          }
        }
      ]
    },
    {
      "width": 452,
      "height": 369,
      "resolve": {"axis": {"x": "independent", "y": "independent"}},
      "data": {"values": [
        {"s": "CuO-1.5", "temp": 26.5, "w": 98.8}, {"s": "CuO-1.5", "temp": 50.5, "w": 98.46}, {"s": "CuO-1.5", "temp": 85, "w": 97.9},
        {"s": "CuO-1.5", "temp": 119, "w": 97.4}, {"s": "CuO-1.5", "temp": 146.5, "w": 96.97}, {"s": "CuO-1.5", "temp": 167, "w": 96.5},
        {"s": "CuO-1.5", "temp": 177, "w": 96.0}, {"s": "CuO-1.5", "temp": 184, "w": 95.03}, {"s": "CuO-1.5", "temp": 191, "w": 94.04},
        {"s": "CuO-1.5", "temp": 198, "w": 93.3}, {"s": "CuO-1.5", "temp": 208, "w": 92.8}, {"s": "CuO-1.5", "temp": 222, "w": 92.2},
        {"s": "CuO-1.5", "temp": 232, "w": 91.6}, {"s": "CuO-1.5", "temp": 239, "w": 90.8}, {"s": "CuO-1.5", "temp": 244, "w": 89.6},
        {"s": "CuO-1.5", "temp": 249, "w": 88.1}, {"s": "CuO-1.5", "temp": 255, "w": 86.8}, {"s": "CuO-1.5", "temp": 260, "w": 85.8},
        {"s": "CuO-1.5", "temp": 266.5, "w": 85.35}, {"s": "CuO-1.5", "temp": 284, "w": 85.3}, {"s": "CuO-1.5", "temp": 297, "w": 85.2},
        {"s": "CuO-1.5", "temp": 311, "w": 84.9}, {"s": "CuO-1.5", "temp": 332, "w": 84.55}, {"s": "CuO-1.5", "temp": 359, "w": 84.2},
        {"s": "CuO-1.5", "temp": 387, "w": 83.85}, {"s": "CuO-1.5", "temp": 407, "w": 83.5}, {"s": "CuO-1.5", "temp": 424, "w": 83.1},
        {"s": "CuO-1.5", "temp": 441, "w": 82.6}, {"s": "CuO-1.5", "temp": 455, "w": 82.0}, {"s": "CuO-1.5", "temp": 465, "w": 81.5},
        {"s": "CuO-1.5", "temp": 483, "w": 80.75}, {"s": "CuO-1.5", "temp": 503, "w": 80.0}, {"s": "CuO-1.5", "temp": 524, "w": 79.4},
        {"s": "CuO-1.5", "temp": 544, "w": 79.0}, {"s": "CuO-1.5", "temp": 572, "w": 78.84}, {"s": "CuO-1.5", "temp": 599, "w": 78.77},
        {"s": "CuO-1.5", "temp": 668, "w": 78.64}, {"s": "CuO-1.5", "temp": 736, "w": 78.6}, {"s": "CuO-1.5", "temp": 791, "w": 78.5},
        {"s": "CuO-1.5", "temp": 839, "w": 78.3}, {"s": "CuO-1.5", "temp": 874, "w": 78.15}, {"s": "CuO-1.5", "temp": 901, "w": 78.0},

        {"s": "CuO-2.0", "temp": 26.5, "w": 98.9}, {"s": "CuO-2.0", "temp": 50.5, "w": 98.7}, {"s": "CuO-2.0", "temp": 85, "w": 98.4},
        {"s": "CuO-2.0", "temp": 119, "w": 98.1}, {"s": "CuO-2.0", "temp": 140, "w": 97.9}, {"s": "CuO-2.0", "temp": 153, "w": 97.6},
        {"s": "CuO-2.0", "temp": 164, "w": 97.3}, {"s": "CuO-2.0", "temp": 170.5, "w": 96.8}, {"s": "CuO-2.0", "temp": 175, "w": 96.0},
        {"s": "CuO-2.0", "temp": 179, "w": 95.03}, {"s": "CuO-2.0", "temp": 183, "w": 93.5}, {"s": "CuO-2.0", "temp": 186, "w": 91.3},
        {"s": "CuO-2.0", "temp": 190, "w": 88.8}, {"s": "CuO-2.0", "temp": 193, "w": 87.1}, {"s": "CuO-2.0", "temp": 197, "w": 86.5},
        {"s": "CuO-2.0", "temp": 205, "w": 86.3}, {"s": "CuO-2.0", "temp": 218.5, "w": 85.85}, {"s": "CuO-2.0", "temp": 236, "w": 85.35},
        {"s": "CuO-2.0", "temp": 256, "w": 84.98}, {"s": "CuO-2.0", "temp": 284, "w": 84.6}, {"s": "CuO-2.0", "temp": 297, "w": 84.35},
        {"s": "CuO-2.0", "temp": 311, "w": 84.0}, {"s": "CuO-2.0", "temp": 325, "w": 83.7}, {"s": "CuO-2.0", "temp": 345, "w": 83.5},
        {"s": "CuO-2.0", "temp": 380, "w": 83.3}, {"s": "CuO-2.0", "temp": 428, "w": 83.06}, {"s": "CuO-2.0", "temp": 496, "w": 82.87},
        {"s": "CuO-2.0", "temp": 599, "w": 82.67}, {"s": "CuO-2.0", "temp": 702, "w": 82.5}, {"s": "CuO-2.0", "temp": 805, "w": 82.3},
        {"s": "CuO-2.0", "temp": 901, "w": 82.2},

        {"s": "CuO-2.5", "temp": 26.5, "w": 98.96}, {"s": "CuO-2.5", "temp": 50.5, "w": 98.76}, {"s": "CuO-2.5", "temp": 85, "w": 98.4},
        {"s": "CuO-2.5", "temp": 119, "w": 98.2}, {"s": "CuO-2.5", "temp": 146.5, "w": 97.96}, {"s": "CuO-2.5", "temp": 160, "w": 97.7},
        {"s": "CuO-2.5", "temp": 168.5, "w": 97.3}, {"s": "CuO-2.5", "temp": 174, "w": 96.8}, {"s": "CuO-2.5", "temp": 179, "w": 95.8},
        {"s": "CuO-2.5", "temp": 184, "w": 94.3}, {"s": "CuO-2.5", "temp": 189, "w": 92.55}, {"s": "CuO-2.5", "temp": 194.5, "w": 91.4},
        {"s": "CuO-2.5", "temp": 201, "w": 91.06}, {"s": "CuO-2.5", "temp": 222, "w": 90.4}, {"s": "CuO-2.5", "temp": 242.5, "w": 89.87},
        {"s": "CuO-2.5", "temp": 263, "w": 89.3}, {"s": "CuO-2.5", "temp": 284, "w": 88.8}, {"s": "CuO-2.5", "temp": 297, "w": 88.3},
        {"s": "CuO-2.5", "temp": 318, "w": 87.6}, {"s": "CuO-2.5", "temp": 332, "w": 87.1}, {"s": "CuO-2.5", "temp": 356, "w": 86.3},
        {"s": "CuO-2.5", "temp": 380, "w": 85.8}, {"s": "CuO-2.5", "temp": 407, "w": 85.35}, {"s": "CuO-2.5", "temp": 434.5, "w": 84.95},
        {"s": "CuO-2.5", "temp": 455, "w": 84.6}, {"s": "CuO-2.5", "temp": 469, "w": 84.2}, {"s": "CuO-2.5", "temp": 483, "w": 83.66},
        {"s": "CuO-2.5", "temp": 496, "w": 83.49}, {"s": "CuO-2.5", "temp": 531, "w": 83.31}, {"s": "CuO-2.5", "temp": 565, "w": 83.16},
        {"s": "CuO-2.5", "temp": 599, "w": 82.99}, {"s": "CuO-2.5", "temp": 633.5, "w": 82.87}, {"s": "CuO-2.5", "temp": 702, "w": 82.72},
        {"s": "CuO-2.5", "temp": 805, "w": 82.62}, {"s": "CuO-2.5", "temp": 901, "w": 82.57}
      ]},
      "layer": [
        {
          "mark": {"type": "line", "strokeWidth": 2.5, "interpolate": "monotone", "strokeJoin": "round"},
          "encoding": {
            "x": {
              "field": "temp", "type": "quantitative",
              "scale": {"domain": [-12.07, 918], "nice": false, "zero": false},
              "axis": {
                "orient": "bottom",
                "title": "Temperature (°C)",
                "values": [200, 400, 600, 800],
                "format": "d",
                "tickSize": 6,
                "tickColor": "#333333",
                "labelFontSize": 15.5,
                "labelPadding": 6.8,
                "titleFontSize": 21,
                "titleX": 232.4,
                "titleY": 59.4
              }
            },
            "y": {
              "field": "w", "type": "quantitative",
              "scale": {"domain": [75, 102.5], "nice": false, "zero": false},
              "axis": {
                "orient": "left",
                "title": "Weight (%)",
                "offset": -11.7,
                "values": [75, 80, 85, 90, 95, 100],
                "format": "d",
                "tickSize": 6,
                "tickColor": "#333333",
                "labelFontSize": 15.5,
                "labelPadding": 6.7,
                "titleFontSize": 21,
                "titleX": -52.5,
                "titleY": 188.4
              }
            },
            "color": {
              "field": "s", "type": "nominal",
              "scale": {"domain": ["CuO-1.5", "CuO-2.0", "CuO-2.5"], "range": ["#000000", "#ff0000", "#0000ff"]},
              "legend": {
                "orient": "none", "legendX": 20.7, "legendY": 289.4, "title": null,
                "symbolType": "M-2.4,0H2.4", "symbolSize": 250, "symbolStrokeWidth": 2.5,
                "labelFont": "Liberation Sans", "labelFontSize": 16, "labelColor": "#222222",
                "strokeColor": "#888888", "fillColor": "white", "padding": 3, "rowPadding": 5,
                "symbolOffset": 10, "labelOffset": 12
              }
            }
          }
        },
        {
          "data": {"values": [{}]},
          "mark": {"type": "rect", "filled": false, "color": "#333333", "strokeWidth": 1.5},
          "encoding": {
            "x": {"datum": 12, "type": "quantitative", "axis": {"orient": "bottom", "values": [100, 300, 500, 700, 900], "labels": false, "title": null, "tickSize": 3.5, "tickColor": "#333333"}},
            "x2": {"datum": 918},
            "y": {"datum": 75, "type": "quantitative", "axis": {"orient": "left", "offset": -11.7, "values": [77.5, 82.5, 87.5, 92.5, 97.5], "labels": false, "title": null, "tickSize": 3.5, "tickColor": "#333333"}},
            "y2": {"datum": 102.5}
          }
        },
        {
          "data": {"values": [{"temp": 841.2, "w": 100.05, "label": "(c)"}]},
          "mark": {"type": "text", "font": "Liberation Sans", "fontSize": 26, "fontWeight": "bold", "color": "#111111", "align": "left", "baseline": "alphabetic"},
          "encoding": {
            "x": {"field": "temp", "type": "quantitative", "axis": null},
            "y": {"field": "w", "type": "quantitative", "axis": null},
            "text": {"field": "label"}
          }
        }
      ]
    }
  ]
}
